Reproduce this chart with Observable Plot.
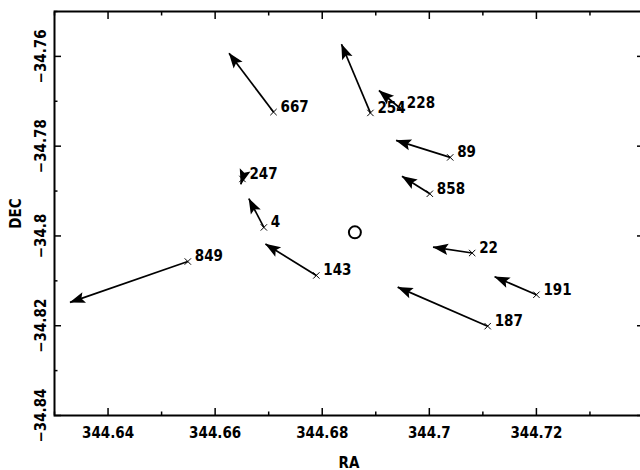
<!DOCTYPE html>
<html><head><meta charset="utf-8">
<script src="https://cdn.jsdelivr.net/npm/d3@7"></script>
<script src="https://cdn.jsdelivr.net/npm/@observablehq/plot@0.6"></script>
<style>
html,body{margin:0;padding:0;background:#fff;overflow:hidden;width:640px;height:470px;}
svg{max-width:none !important;}
</style></head><body><div id="chart"></div>
<script>
// Source identifiers
const ids = ["667","254","228","89","858","247","4","849","143","22","191","187"];
// Tail positions (RA, DEC)
const ra  = [344.6709, 344.6890, 344.6945, 344.7039, 344.7001, 344.6651, 344.6691, 344.6549, 344.6789, 344.7080, 344.7200, 344.7109];
const dec = [-34.7724, -34.7726, -34.7715, -34.7825, -34.7906, -34.7873, -34.7981, -34.8057, -34.8088, -34.8038, -34.8131, -34.8201];
// Arrow tip positions (RA, DEC)
const raTip  = [344.6626, 344.6836, 344.6906, 344.6938, 344.6949, 344.6648, 344.6663, 344.6329, 344.6694, 344.7007, 344.7122, 344.6941];
const decTip = [-34.7593, -34.7573, -34.7676, -34.7787, -34.7867, -34.7885, -34.7917, -34.8148, -34.8018, -34.8025, -34.8091, -34.8114];
// Central reference position
const centerRA = [344.6861];
const centerDEC = [-34.7992];
// Ticks
const xMajor = [344.64, 344.66, 344.68, 344.70, 344.72, 344.74];
const xMinor = [344.63, 344.65, 344.67, 344.69, 344.71, 344.73];
const xLabelTicks = [344.64, 344.66, 344.68, 344.70, 344.72];
const xLabels = ["344.64", "344.66", "344.68", "344.7", "344.72"];
const yMajor = [-34.76, -34.78, -34.80, -34.82, -34.84];
const yMinor = [-34.75, -34.77, -34.79, -34.81, -34.83];
const yLabels = ["\u221234.76", "\u221234.78", "\u221234.8", "\u221234.82", "\u221234.84"];

const rows = ids.map((id, i) => ({id, ra: ra[i], dec: dec[i], raTip: raTip[i], decTip: decTip[i]}));
const center = centerRA.map((r, i) => ({ra: r, dec: centerDEC[i]}));

function head(color) {
  const m = d3.create("svg:marker")
    .attr("viewBox", "-17 -7 19 14")
    .attr("markerWidth", 19).attr("markerHeight", 14)
    .attr("markerUnits", "userSpaceOnUse")
    .attr("refX", 0).attr("refY", 0)
    .attr("orient", "auto");
  m.append("path").attr("d", "M0.5,0L-15,-5.6L-12,0L-15,5.6Z").attr("fill", color).attr("stroke", "none");
  return m.node();
}

const tickStyle = {fill: "none", stroke: "black", strokeWidth: 1.5};

const chart = Plot.plot({
  width: 645, height: 470,
  marginLeft: 54, marginRight: 2, marginTop: 11, marginBottom: 55,
  x: {domain: [344.63, 344.74]},
  y: {domain: [-34.84, -34.75]},
  style: {fontFamily: "'DejaVu Sans Condensed', 'DejaVu Sans', sans-serif", fontSize: "15px", fontWeight: "bold", color: "black", background: "white"},
  marks: [
    Plot.axisX(xMajor, {anchor: "bottom", tickSize: -7, ...tickStyle}),
    Plot.axisX(xMinor, {anchor: "bottom", tickSize: -3.5, ...tickStyle}),
    Plot.axisX(xMajor, {anchor: "top", tickSize: -7, ...tickStyle}),
    Plot.axisX(xMinor, {anchor: "top", tickSize: -3.5, ...tickStyle}),
    Plot.axisY(yMajor, {anchor: "left", tickSize: -7, ...tickStyle}),
    Plot.axisY(yMinor, {anchor: "left", tickSize: -3.5, ...tickStyle}),
    Plot.axisY(yMajor, {anchor: "right", tickSize: -7, ...tickStyle}),
    Plot.axisY(yMinor, {anchor: "right", tickSize: -3.5, ...tickStyle}),
    Plot.axisX(xLabelTicks, {anchor: "bottom", tickSize: 0, tickPadding: 12,
      tickFormat: d => xLabels[xLabelTicks.indexOf(d)],
      label: "RA", labelAnchor: "center", labelOffset: 52, labelArrow: "none"}),
    Plot.axisY(yMajor, {anchor: "left", tickSize: 0, tickPadding: 9, tickRotate: -90,
      tickFormat: d => yLabels[yMajor.indexOf(d)],
      label: "DEC", labelAnchor: "center", labelOffset: 44, labelArrow: "none"}),
    Plot.frame({stroke: "black", strokeWidth: 2}),
    Plot.link(rows, {x1: "ra", y1: "dec", x2: "raTip", y2: "decTip", stroke: "black", strokeWidth: 1.7, markerEnd: head}),
    Plot.dot(rows, {x: "ra", y: "dec", symbol: "times", r: 3, stroke: "black", strokeWidth: 1}),
    Plot.text(rows, {x: "ra", y: "dec", text: "id", textAnchor: "start", dx: 7, dy: -5, fontSize: 15, fill: "black"}),
    Plot.dot(center, {x: "ra", y: "dec", r: 6, stroke: "black", strokeWidth: 2, fill: "none"})
  ]
});
chart.style.maxWidth = "none";
document.getElementById("chart").appendChild(chart);
</script>
</body></html>
